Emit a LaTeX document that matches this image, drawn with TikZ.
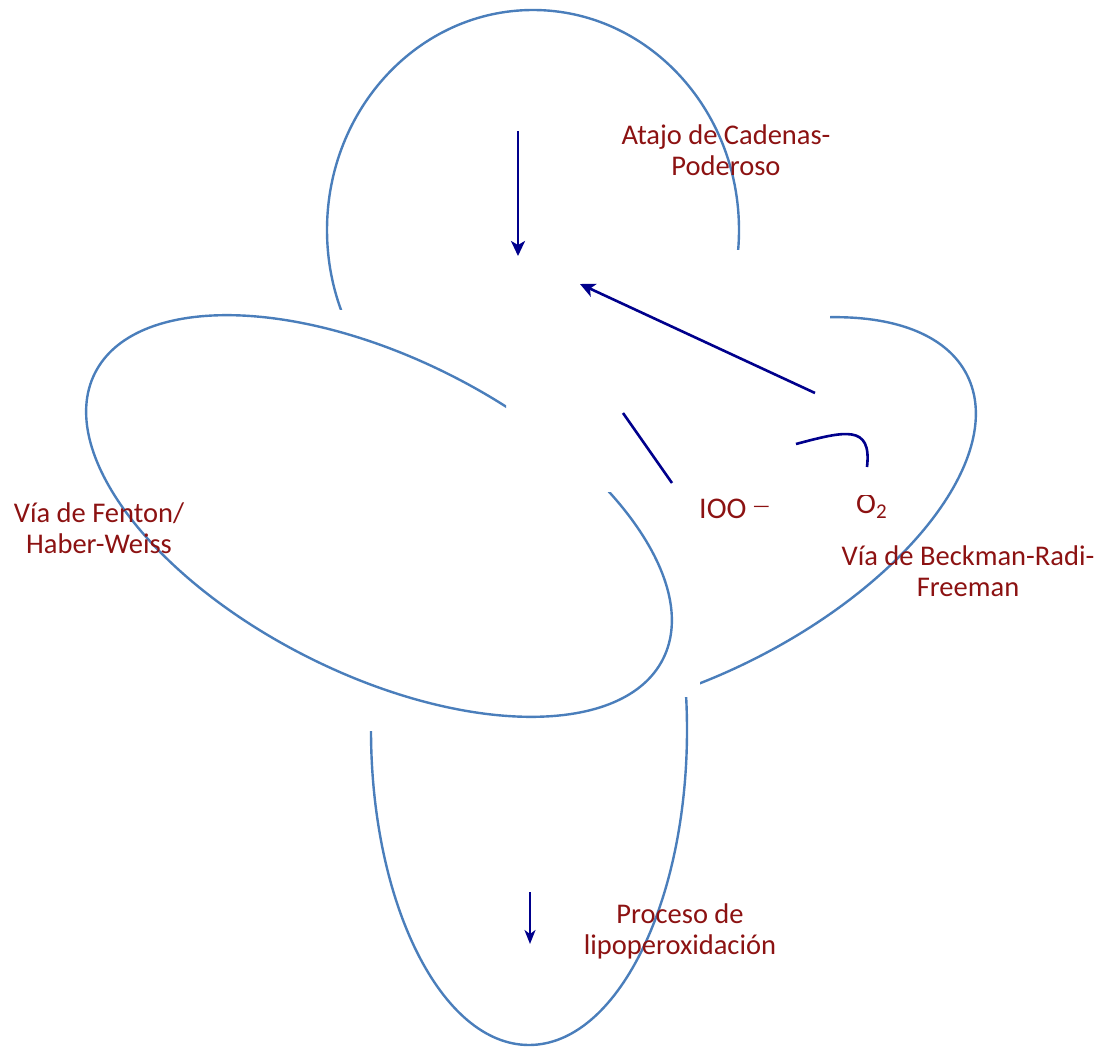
\documentclass[tikz,border=0pt]{standalone}
\usepackage{fontspec}
\setmainfont{Carlito}
\usetikzlibrary{arrows.meta}
\definecolor{loopblue}{RGB}{74,126,187}
\definecolor{arrowblue}{RGB}{0,0,140}
\definecolor{labelred}{RGB}{140,18,18}
\begin{document}
\begin{tikzpicture}[x=1pt,y=-1pt,
  loopline/.style={draw=loopblue, line width=2.4pt},
  arrowline/.style={draw=arrowblue, line width=2.6pt},
  tipped/.style={arrowline, -{Stealth[length=15pt,width=14pt,inset=4pt]}},
  lbl/.style={text=labelred, font=\fontsize{28.5}{31}\selectfont, align=center, inner sep=0pt}]
\useasboundingbox (0,0) rectangle (1112,1051);

% top loop
\begin{scope}
\clip (0,0) -- (1112,0) -- (1112,250) -- (531,250) -- (531,310) -- (0,310) -- cycle;
\draw[loopline] (533,230) ellipse[x radius=206, y radius=220];
\end{scope}

% Fenton loop
\begin{scope}
\clip (0,0) -- (506,0) -- (506,492) -- (1112,492) -- (1112,1051) -- (0,1051) -- cycle;
\begin{scope}[shift={(379,516)}, rotate=-26.7]
\draw[loopline] (0,0) ellipse[x radius=318, y radius=158];
\end{scope}
\end{scope}

% Beckman loop
\begin{scope}
\clip (830,0) -- (1112,0) -- (1112,1051) -- (700,1051) -- (700,450) -- (830,450) -- cycle;
\begin{scope}[shift={(683,518)}, rotate=26.7]
\draw[loopline] (0,0) ellipse[x radius=318, y radius=158];
\end{scope}
\end{scope}

% bottom loop
\begin{scope}
\clip (0,731) -- (529,731) -- (529,697) -- (1112,697) -- (1112,1051) -- (0,1051) -- cycle;
\draw[loopline] (529,730) ellipse[x radius=158, y radius=315];
\end{scope}

% arrows and lines
\coordinate (a1s) at (518,131);
\coordinate (a1e) at (518,256);
\draw[tipped] (a1s) -- (a1e);

\coordinate (a2s) at (815,393);
\coordinate (a2e) at (580,284);
\draw[tipped] (a2s) -- (a2e);

\coordinate (l3s) at (623,413);
\coordinate (l3e) at (672,483);
\draw[arrowline] (l3s) -- (l3e);

\coordinate (c4s) at (796,444);
\coordinate (c4e) at (867,467);
\draw[arrowline] (c4s) .. controls (845,431) and (872,424) .. (c4e);

\coordinate (a5s) at (530,892);
\coordinate (a5e) at (530,944);
\draw[arrowline, line width=2.2pt, -{Stealth[length=14pt,width=11pt,inset=4pt]}] (a5s) -- (a5e);

% labels
\node[lbl] (atajo) at (726,150) {Atajo de Cadenas-\\Poderoso};
\node[lbl] (fenton) at (99,528) {Vía de Fenton/\\Haber-Weiss};
\node[lbl] (beckman) at (968,571) {Vía de Beckman-Radi-\\Freeman};
\node[lbl] (proceso) at (680,931) {Proceso de\\lipoperoxidación};

\node[lbl, anchor=base west, font=\fontsize{30}{31}\selectfont] (ioo) at (699,518) {IOO\hspace{6pt}\raisebox{6pt}{\fontsize{20}{20}\selectfont —}};
\begin{scope}
\clip (840,495) rectangle (910,530);
\node[lbl, anchor=base west, font=\fontsize{30}{31}\selectfont] (otwo) at (856,513) {O\textsubscript{2}};
\end{scope}
\end{tikzpicture}
\end{document}
